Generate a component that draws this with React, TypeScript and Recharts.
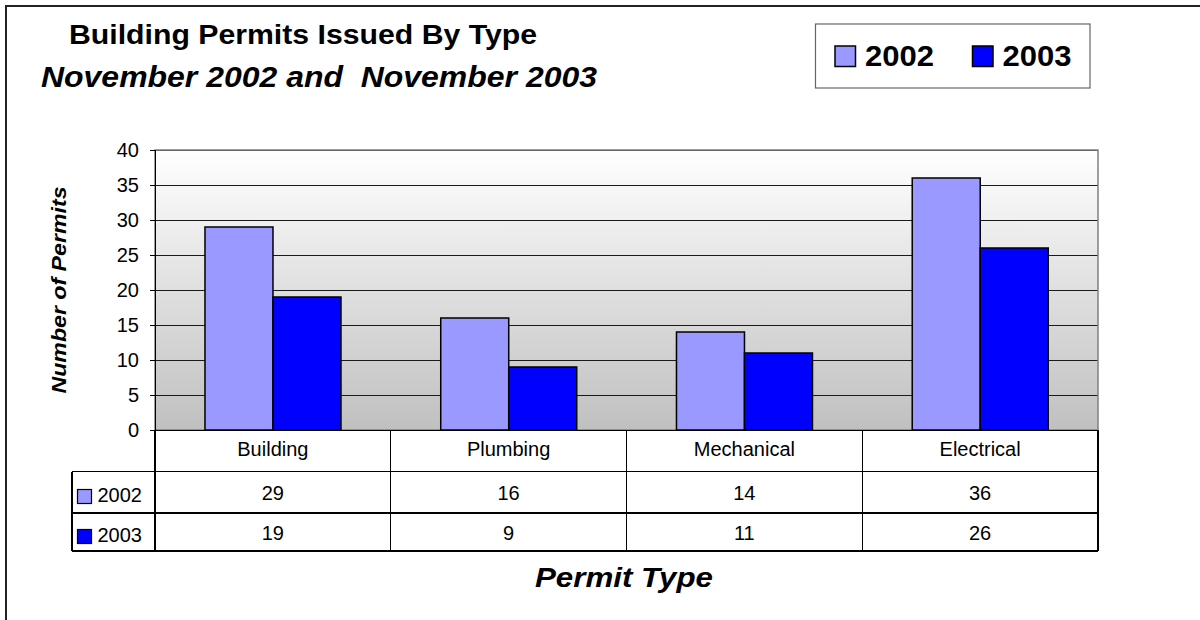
import React from 'react';
import { BarChart, Bar, XAxis, YAxis, CartesianGrid, ReferenceArea } from 'recharts';

const categories = ['Building', 'Plumbing', 'Mechanical', 'Electrical'];
const permits2002 = [29, 16, 14, 36];
const permits2003 = [19, 9, 11, 26];
const seriesNames = ['2002', '2003'];
const seriesColors = ['#9999FF', '#0000FF'];
const yTicks = [0, 5, 10, 15, 20, 25, 30, 35, 40];

const FONT = '"Liberation Sans", Arial, sans-serif';

// chart geometry (plot area)
const W = 1200;
const H = 620;
const PLOT_LEFT = 155;
const PLOT_RIGHT = 1098;
const PLOT_TOP = 150;
const PLOT_BOTTOM = 430;
const BAND = (PLOT_RIGHT - PLOT_LEFT) / categories.length;

// data table rows under the axis
const ROW_LINES = [PLOT_BOTTOM, 471.5, 513, 551];
const LABEL_COL_LEFT = 72;

const chartData = categories.map((name, i) => ({
  name,
  y2002: permits2002[i],
  y2003: permits2003[i],
}));
const seriesValues = [permits2002, permits2003];

const lineStyle = { stroke: '#000', strokeWidth: 1.2, shapeRendering: 'crispEdges' as const };

// draws one column of the data table under each category
const TableTick = (props: any) => {
  const { x, payload } = props;
  const i = payload?.index ?? props.index ?? categories.indexOf(payload?.value);
  const left = x - BAND / 2;
  const right = x + BAND / 2;
  const last = i === categories.length - 1;
  return (
    <g>
      <line x1={left} y1={ROW_LINES[0]} x2={left} y2={ROW_LINES[3]} {...lineStyle} />
      {last && <line x1={right} y1={ROW_LINES[0]} x2={right} y2={ROW_LINES[3]} {...lineStyle} />}
      {ROW_LINES.slice(1).map((ry) => (
        <line key={ry} x1={left} y1={ry} x2={right} y2={ry} {...lineStyle} />
      ))}
      <text x={x} y={456} textAnchor="middle" fontSize={20} fontFamily={FONT} fill="#000">
        {payload.value}
      </text>
      {seriesValues.map((vals, s) => (
        <text key={s} x={x} y={500 + s * 40} textAnchor="middle" fontSize={20} fontFamily={FONT} fill="#000">
          {vals[i]}
        </text>
      ))}
      {i === 0 && (
        <g>
          <line x1={LABEL_COL_LEFT} y1={ROW_LINES[1]} x2={LABEL_COL_LEFT} y2={ROW_LINES[3]} {...lineStyle} />
          {ROW_LINES.slice(1).map((ry) => (
            <line key={ry} x1={LABEL_COL_LEFT} y1={ry} x2={left} y2={ry} {...lineStyle} />
          ))}
          {seriesNames.map((n, s) => (
            <g key={n}>
              <rect x={77.5} y={489.5 + s * 40} width={14} height={14} fill={seriesColors[s]} stroke="#000" strokeWidth={1.2} />
              <text x={97.5} y={501.5 + s * 40} fontSize={20} fontFamily={FONT} fill="#000">
                {n}
              </text>
            </g>
          ))}
        </g>
      )}
    </g>
  );
};

const Overlay = () => (
  <svg width={W} height={H} style={{ position: 'absolute', left: 0, top: 0, pointerEvents: 'none' }}>
    <text x={69} y={44} fontSize={27} fontWeight="bold" fontFamily={FONT} textLength={468} lengthAdjust="spacingAndGlyphs">
      Building Permits Issued By Type
    </text>
    <text
      x={41}
      y={87}
      fontSize={29}
      fontWeight="bold"
      fontStyle="italic"
      fontFamily={FONT}
      textLength={556}
      lengthAdjust="spacingAndGlyphs"
      style={{ whiteSpace: 'pre' }}
    >
      November 2002 and  November 2003
    </text>

    {/* legend */}
    <rect x={815.5} y={24} width={274.5} height={64} fill="#fff" stroke="#666" strokeWidth={1.2} />
    {seriesNames.map((n, s) => (
      <g key={n}>
        <rect x={835 + s * 137.5} y={46} width={20.5} height={20.5} fill={seriesColors[s]} stroke="#000" strokeWidth={1.5} />
        <text x={865 + s * 137.5} y={65.5} fontSize={30} fontWeight="bold" fontFamily={FONT} textLength={69} lengthAdjust="spacingAndGlyphs">
          {n}
        </text>
      </g>
    ))}

    {/* axis titles */}
    <text
      x={0}
      y={0}
      transform="translate(65.5,290) rotate(-90)"
      textAnchor="middle"
      fontSize={21}
      fontWeight="bold"
      fontStyle="italic"
      fontFamily={FONT}
      textLength={207}
      lengthAdjust="spacingAndGlyphs"
    >
      Number of Permits
    </text>
    <text
      x={624}
      y={587}
      textAnchor="middle"
      fontSize={28}
      fontWeight="bold"
      fontStyle="italic"
      fontFamily={FONT}
      textLength={178}
      lengthAdjust="spacingAndGlyphs"
    >
      Permit Type
    </text>
  </svg>
);

const App: React.FC = () => {
  return (
    <div style={{ position: 'absolute', left: 0, top: 0, width: W, height: H, background: '#fff', overflow: 'hidden' }}>
      <div
        style={{
          position: 'absolute',
          left: 5,
          top: 5,
          width: W + 20,
          height: H + 20,
          border: '2px solid #222',
          boxSizing: 'border-box',
        }}
      />
      <div style={{ position: 'absolute', left: 0, top: 0 }}>
        <BarChart
          width={W}
          height={H}
          data={chartData}
          margin={{ top: PLOT_TOP, right: W - PLOT_RIGHT, bottom: 60, left: 65 }}
          barGap={0}
          barCategoryGap="21.2%"
        >
          <defs>
            <linearGradient id="plotGrad" x1="0" y1="0" x2="0" y2="1">
              <stop offset="0%" stopColor="#FFFFFF" />
              <stop offset="100%" stopColor="#C0C0C0" />
            </linearGradient>
          </defs>
          <CartesianGrid
            vertical={false}
            stroke="#1a1a1a"
            strokeWidth={1}
            shapeRendering="crispEdges"
            fill="url(#plotGrad)"
            fillOpacity={1}
          />
          <ReferenceArea y1={0} y2={40} fill="none" stroke="#808080" strokeWidth={1.5} />
          <XAxis
            dataKey="name"
            height={H - PLOT_BOTTOM - 60}
            axisLine={{ stroke: '#000', shapeRendering: 'crispEdges' }}
            tickLine={false}
            tickSize={0}
            tickMargin={0}
            interval={0}
            tick={<TableTick />}
          />
          <YAxis
            width={PLOT_LEFT - 65}
            domain={[0, 40]}
            ticks={yTicks}
            interval={0}
            tickSize={5}
            tickMargin={11}
            axisLine={{ stroke: '#000', shapeRendering: 'crispEdges' }}
            tickLine={{ stroke: '#000', shapeRendering: 'crispEdges' }}
            tick={{ fill: '#000', fontSize: 20, fontFamily: FONT }}
          />
          <Bar dataKey="y2002" name={seriesNames[0]} fill={seriesColors[0]} stroke="#000" strokeWidth={1.5} isAnimationActive={false} />
          <Bar dataKey="y2003" name={seriesNames[1]} fill={seriesColors[1]} stroke="#000" strokeWidth={1.5} isAnimationActive={false} />
        </BarChart>
      </div>
      <Overlay />
    </div>
  );
};

export default App;
